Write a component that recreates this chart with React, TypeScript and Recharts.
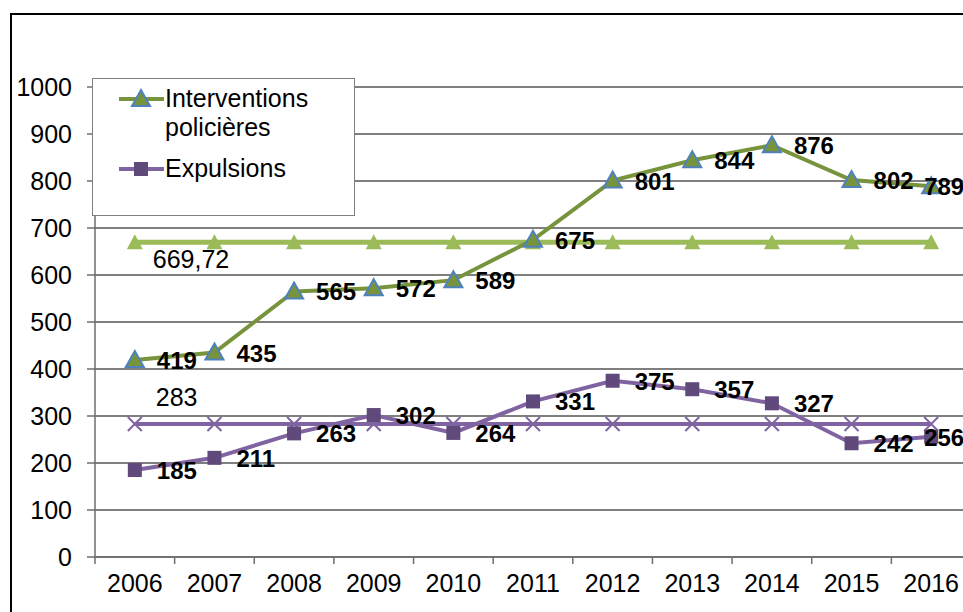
import { LineChart, Line, XAxis, YAxis, CartesianGrid, Legend, LabelList } from "recharts";

// values
const years = ["2006", "2007", "2008", "2009", "2010", "2011", "2012", "2013", "2014", "2015", "2016"];
const interventions = [419, 435, 565, 572, 589, 675, 801, 844, 876, 802, 789];
const expulsions = [185, 211, 263, 302, 264, 331, 375, 357, 327, 242, 256];
const moyenneInterventions = [669.72, 669.72, 669.72, 669.72, 669.72, 669.72, 669.72, 669.72, 669.72, 669.72, 669.72];
const moyenneExpulsions = [283, 283, 283, 283, 283, 283, 283, 283, 283, 283, 283];
const yTicks = [0, 100, 200, 300, 400, 500, 600, 700, 800, 900, 1000];
const legendOrder = ["interventions", "expulsions"];

const data = years.map((year, i) => ({
  year,
  interventions: interventions[i],
  expulsions: expulsions[i],
  moyInt: moyenneInterventions[i],
  moyExp: moyenneExpulsions[i],
}));

const FONT = "'Liberation Sans', Arial, sans-serif";
const CHART_W = 1000;
const CHART_H = 612;
const MARGIN = { top: 87, right: 29, bottom: 25, left: 0 };
const Y_AXIS_W = 95;
const BAND = (CHART_W - MARGIN.left - MARGIN.right - Y_AXIS_W) / years.length;

const GREEN_DARK = "#77933C";
const GREEN_LIGHT = "#9BBB59";
const BLUE_EDGE = "#4F81BD";
const PURPLE = "#8064A2";
const PURPLE_DARK = "#604A7B";

const Triangle = ({ cx, cy }: any) => (
  <polygon
    points={`${cx},${cy - 9} ${cx + 9},${cy + 7} ${cx - 9},${cy + 7}`}
    fill={GREEN_DARK}
    stroke={BLUE_EDGE}
    strokeWidth={2}
  />
);

const LightTriangle = ({ cx, cy }: any) => (
  <polygon points={`${cx},${cy - 8} ${cx + 8},${cy + 7} ${cx - 8},${cy + 7}`} fill={GREEN_LIGHT} />
);

const Square = ({ cx, cy }: any) => <rect x={cx - 7} y={cy - 7} width={14} height={14} fill={PURPLE_DARK} />;

const Cross = ({ cx, cy }: any) => (
  <g stroke={PURPLE} strokeWidth={2}>
    <line x1={cx - 7} y1={cy - 7} x2={cx + 7} y2={cy + 7} />
    <line x1={cx - 7} y1={cy + 7} x2={cx + 7} y2={cy - 7} />
  </g>
);

// bold value to the right of each point, the last one pulled back inside
const ValueLabel = ({ x, y, value, index }: any) => {
  const last = index === years.length - 1;
  return (
    <text x={x + (last ? -7 : 22)} y={y + 9} fontFamily={FONT} fontWeight="bold" fontSize={24} fill="#000">
      {value}
    </text>
  );
};

// average written once, near the first point
const avgLabel = (dx: number, dy: number) => ({ x, y, value, index }: any) => {
  if (index !== 0) return null;
  return (
    <text x={x + dx} y={y + dy} fontFamily={FONT} fontSize={25} fill="#000">
      {String(value).replace(".", ",")}
    </text>
  );
};

const YearTick = ({ x, y, payload }: any) => (
  <g>
    <line x1={x - BAND / 2} y1={y} x2={x - BAND / 2} y2={y + 7} stroke="#6e6e6e" strokeWidth={1.5} />
    <text x={x} y={y + 35} textAnchor="middle" fontFamily={FONT} fontSize={25} fill="#000">
      {payload.value}
    </text>
  </g>
);

const legendMarkers: Record<string, any> = {
  interventions: { color: GREEN_DARK, marker: (cx: number, cy: number) => <Triangle cx={cx} cy={cy} /> },
  expulsions: { color: PURPLE, marker: (cx: number, cy: number) => <Square cx={cx} cy={cy} /> },
};

const LegendBox = ({ payload }: any) => {
  const rows = [
    { top: 20, textTop: 5 },
    { top: 90, textTop: 75 },
  ];
  const entries = legendOrder
    .map((k) => (payload || []).find((e: any) => e.dataKey === k))
    .filter(Boolean);
  return (
    <div
      style={{
        position: "relative",
        width: 263,
        height: 138,
        boxSizing: "border-box",
        border: "1.5px solid #808080",
        background: "#fff",
        fontFamily: FONT,
      }}
    >
      {entries.map((entry: any, i: number) => {
        const key = entry.dataKey as string;
        const m = legendMarkers[key];
        const row = rows[i];
        if (!m || !row) return null;
        return (
          <div key={key}>
            <svg style={{ position: "absolute", left: 24, top: row.top - 12 }} width={50} height={24}>
              <line x1={2} y1={12} x2={47} y2={12} stroke={m.color} strokeWidth={4} />
              {m.marker(24, 12)}
            </svg>
            <div
              style={{
                position: "absolute",
                left: 72,
                top: row.textTop,
                width: 180,
                fontSize: 25,
                lineHeight: "29px",
                color: "#000",
                textAlign: "left",
              }}
            >
              {entry.value}
            </div>
          </div>
        );
      })}
    </div>
  );
};

export default function App() {
  return (
    <div
      style={{
        position: "absolute",
        left: 0,
        top: 0,
        width: 963,
        height: 612,
        overflow: "hidden",
        background: "#fff",
        fontFamily: FONT,
      }}
    >
      <div
        style={{
          position: "absolute",
          left: 10,
          top: 13,
          width: 2000,
          height: 2000,
          border: "2px solid #000",
        }}
      />
      <div style={{ position: "absolute", left: 0, top: 0 }}>
        <LineChart width={CHART_W} height={CHART_H} data={data} margin={MARGIN}>
          <CartesianGrid vertical={false} stroke="#555" strokeWidth={1.3} />
          <XAxis
            dataKey="year"
            padding={{ left: BAND / 2, right: BAND / 2 }}
            tickLine={false}
            tickSize={0}
            tickMargin={0}
            tick={<YearTick />}
            axisLine={{ stroke: "#6e6e6e", strokeWidth: 1.5 }}
            interval={0}
          />
          <YAxis
            width={Y_AXIS_W}
            domain={[0, 1000]}
            ticks={yTicks}
            interval={0}
            tickSize={8}
            tickMargin={15}
            tickLine={{ stroke: "#6e6e6e", strokeWidth: 1.5 }}
            axisLine={{ stroke: "#6e6e6e", strokeWidth: 1.5 }}
            tick={{ fontSize: 25, fill: "#000", fontFamily: FONT }}
          />
          <Legend
            layout="horizontal"
            verticalAlign="middle"
            align="center"
            content={<LegendBox />}
            wrapperStyle={{ left: 92, top: 78, width: 263, height: 138 }}
          />
          <Line
            dataKey="moyInt"
            stroke={GREEN_LIGHT}
            strokeWidth={5}
            dot={(p: any) => <LightTriangle key={`mi${p.index}`} {...p} />}
            activeDot={false}
            legendType="none"
            isAnimationActive={false}
          >
            <LabelList dataKey="moyInt" content={avgLabel(18, 26)} />
          </Line>
          <Line
            dataKey="moyExp"
            stroke={PURPLE}
            strokeWidth={4}
            dot={(p: any) => <Cross key={`me${p.index}`} {...p} />}
            activeDot={false}
            legendType="none"
            isAnimationActive={false}
          >
            <LabelList dataKey="moyExp" content={avgLabel(21, -18)} />
          </Line>
          <Line
            dataKey="interventions"
            name="Interventions policières"
            stroke={GREEN_DARK}
            strokeWidth={4}
            dot={(p: any) => <Triangle key={`i${p.index}`} {...p} />}
            activeDot={false}
            isAnimationActive={false}
          >
            <LabelList dataKey="interventions" content={<ValueLabel />} />
          </Line>
          <Line
            dataKey="expulsions"
            name="Expulsions"
            stroke={PURPLE}
            strokeWidth={4}
            dot={(p: any) => <Square key={`e${p.index}`} {...p} />}
            activeDot={false}
            isAnimationActive={false}
          >
            <LabelList dataKey="expulsions" content={<ValueLabel />} />
          </Line>
        </LineChart>
      </div>
    </div>
  );
}
